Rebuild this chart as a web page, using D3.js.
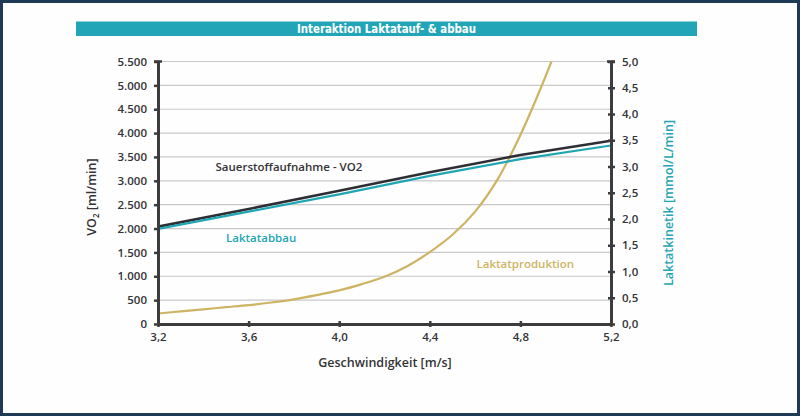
<!DOCTYPE html>
<html><head><meta charset="utf-8">
<script src="https://cdn.jsdelivr.net/npm/d3@7"></script>
<style>
html,body{margin:0;padding:0;background:#fff;}
svg{display:block;}
</style></head>
<body>
<svg id="c" width="800" height="416"></svg>
<script>
// ---- data ----
const speeds = [3.2, 3.6, 4.0, 4.4, 4.8, 5.2];
const vo2 = [2040, 2410, 2790, 3180, 3540, 3840];           // ml/min (left axis)
const laktatAbbau = [1.81, 2.14, 2.47, 2.82, 3.14, 3.40];   // mmol/L/min (right axis)
const prodSpeeds = [3.2, 3.3, 3.4, 3.5, 3.6, 3.7, 3.8, 3.9, 4.0, 4.1, 4.2, 4.3, 4.4, 4.5, 4.6, 4.7, 4.8, 4.9, 5.0];
const laktatProduktion = [0.20, 0.24, 0.28, 0.32, 0.36, 0.41, 0.47, 0.55, 0.64, 0.76, 0.90, 1.10, 1.37, 1.70, 2.14, 2.76, 3.60, 4.60, 5.70];
const xTicks = [3.2, 3.6, 4.0, 4.4, 4.8, 5.2];
const leftTicks = [0, 500, 1000, 1500, 2000, 2500, 3000, 3500, 4000, 4500, 5000, 5500];
const rightTicks = [0, 0.5, 1, 1.5, 2, 2.5, 3, 3.5, 4, 4.5, 5];
const title = "Interaktion Laktatauf- & abbau";
const xTitle = "Geschwindigkeit [m/s]";
const rightTitle = "Laktatkinetik [mmol/L/min]";

// ---- layout ----
const svg = d3.select("#c");
const L = 158, R = 611, T = 61.5, B = 324;
const x = d3.scaleLinear().domain([3.2, 5.2]).range([L, R]);
const yL = d3.scaleLinear().domain([0, 5500]).range([B, T]);
const yR = d3.scaleLinear().domain([0, 5]).range([B, T]);
const de = d3.formatLocale({decimal: ",", thousands: ".", grouping: [3], currency: ["", "€"]});
const fmtL = de.format(",.0f"), fmtR = de.format(".1f");
const fontLab = "'Open Sans', 'Noto Sans', sans-serif";
const axisCol = "#3c3c3e", textCol = "#333336";
const teal = "#1fa6b2", gold = "#ccb463", dark = "#2e2f35";

// frame
svg.append("rect").attr("x", 0).attr("y", 0).attr("width", 800).attr("height", 416).attr("fill", "#1f3a55");
svg.append("rect").attr("x", 3).attr("y", 3).attr("width", 794).attr("height", 410).attr("fill", "#fefefe");

// title bar
svg.append("rect").attr("x", 76).attr("y", 21.5).attr("width", 621).attr("height", 14.5).attr("fill", "#22a6b7");
svg.append("text").attr("x", 386.5).attr("y", 33.2).attr("text-anchor", "middle")
  .attr("fill", "#fff").attr("font-family", "'DejaVu Sans Condensed','Roboto',sans-serif")
  .attr("font-weight", "bold").attr("font-size", 12.5)
  .attr("textLength", 179).attr("lengthAdjust", "spacingAndGlyphs").text(title);

// grid
svg.append("g").selectAll("line").data(leftTicks.filter(d => d > 0)).join("line")
  .attr("x1", L).attr("x2", R).attr("y1", d => yL(d)).attr("y2", d => yL(d))
  .attr("stroke", "#c9c9cc").attr("stroke-width", 1.2);

// clip
svg.append("clipPath").attr("id", "clip").append("rect").attr("x", L).attr("y", T).attr("width", R - L).attr("height", B - T);

const lineL = d3.line().x((d, i) => x(speeds[i])).y(d => yL(d));
const lineR = d3.line().x((d, i) => x(speeds[i])).y(d => yR(d));
const lineP = d3.line().x((d, i) => x(prodSpeeds[i])).y(d => yR(d)).curve(d3.curveCatmullRom.alpha(0.5));

const lines = svg.append("g").attr("clip-path", "url(#clip)");
lines.append("path").datum(laktatProduktion).attr("d", lineP).attr("fill", "none").attr("stroke", gold).attr("stroke-width", 2.2);
lines.append("path").datum(vo2).attr("d", lineL).attr("fill", "none").attr("stroke", dark).attr("stroke-width", 2.6);
lines.append("path").datum(laktatAbbau).attr("d", lineR).attr("fill", "none").attr("stroke", teal).attr("stroke-width", 2.2);

// axes
function styleAxis(g) {
  g.select(".domain").attr("stroke", axisCol).attr("stroke-width", 3);
  g.selectAll(".tick line").attr("stroke", axisCol).attr("stroke-width", 2.5);
  g.selectAll(".tick text").attr("fill", textCol).attr("font-family", fontLab).attr("font-size", 11.5).attr("font-weight", 600);
}
const gl = svg.append("g").attr("transform", `translate(${L},0)`)
  .call(d3.axisLeft(yL).tickValues(leftTicks).tickFormat(fmtL).tickSizeInner(4).tickSizeOuter(0).tickPadding(7));
styleAxis(gl);
gl.selectAll(".tick line").attr("x2", -4).attr("x1", 2);
const gr = svg.append("g").attr("transform", `translate(${R},0)`)
  .call(d3.axisRight(yR).tickValues(rightTicks).tickFormat(fmtR).tickSizeInner(4).tickSizeOuter(0).tickPadding(7));
styleAxis(gr);
gr.selectAll(".tick line").attr("x1", -3).attr("x2", 4);
const gb = svg.append("g").attr("transform", `translate(0,${B})`)
  .call(d3.axisBottom(x).tickValues(xTicks).tickFormat(d => fmtR(d)).tickSizeInner(3).tickSizeOuter(0).tickPadding(6));
styleAxis(gb);
gb.selectAll(".tick line").attr("y1", -3).attr("y2", 3);
// top caps
[L, R].forEach(px => svg.append("line").attr("x1", px - 4).attr("x2", px + 4).attr("y1", T).attr("y2", T)
  .attr("stroke", axisCol).attr("stroke-width", 2.5));

// axis titles
svg.append("text").attr("x", 385).attr("y", 367).attr("text-anchor", "middle").attr("fill", textCol)
  .attr("font-family", fontLab).attr("font-size", 12.5).attr("font-weight", 600).text(xTitle);
const yt = svg.append("text").attr("transform", "translate(96,197) rotate(-90)").attr("text-anchor", "middle")
  .attr("fill", textCol).attr("font-family", fontLab).attr("font-size", 12.5).attr("font-weight", 600);
yt.append("tspan").text("VO");
yt.append("tspan").attr("font-size", 8).attr("dy", 3).text("2");
yt.append("tspan").attr("dy", -3).text(" [ml/min]");
svg.append("text").attr("transform", "translate(673,203) rotate(-90)").attr("text-anchor", "middle")
  .attr("fill", teal).attr("font-family", fontLab).attr("font-size", 12.5).attr("font-weight", 600).text(rightTitle);

// series labels
const lab = (t, px, py, c) => svg.append("text").attr("x", px).attr("y", py).attr("fill", c)
  .attr("font-family", fontLab).attr("font-size", 11.5).attr("font-weight", 600).text(t);
lab("Sauerstoffaufnahme - VO2", 215.5, 171, textCol);
lab("Laktatabbau", 226, 242, teal);
lab("Laktatproduktion", 476.5, 268, gold);
</script>
</body></html>
